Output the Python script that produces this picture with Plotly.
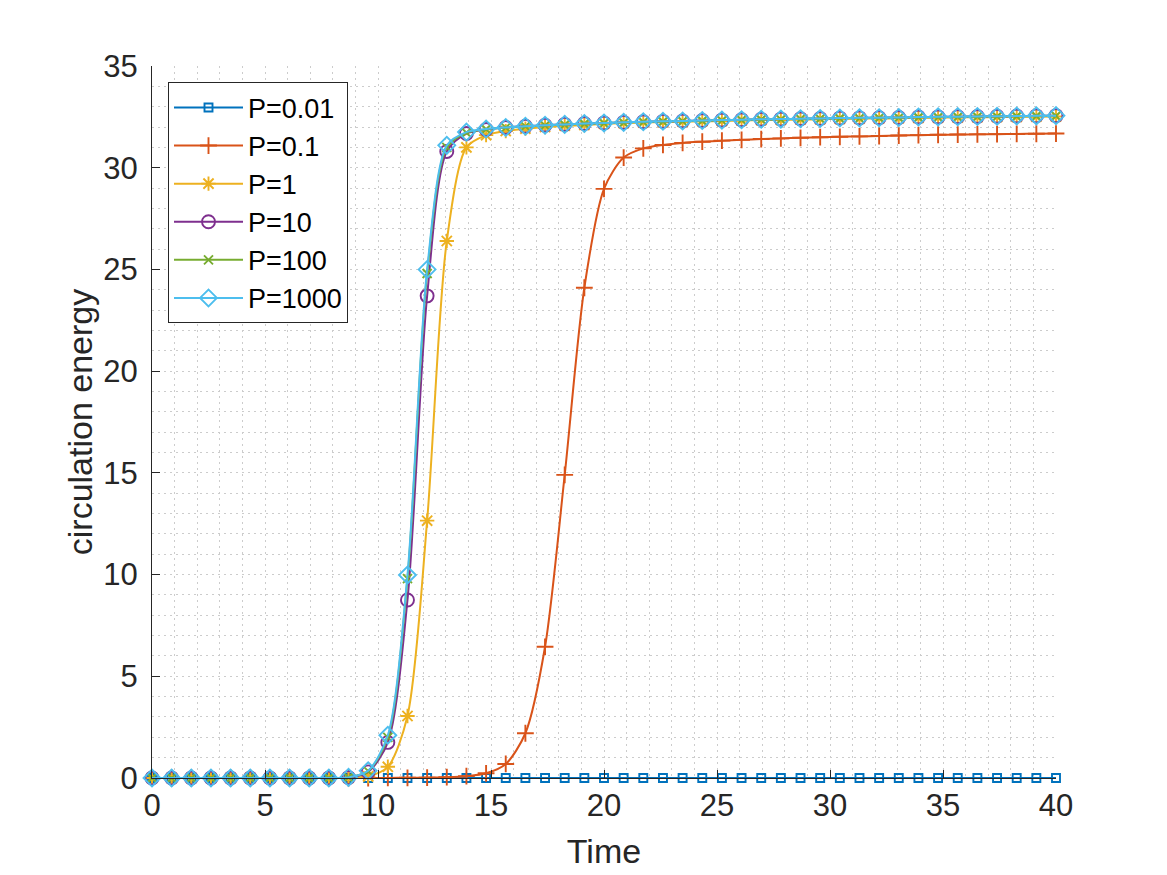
import numpy as np
import plotly.graph_objects as go

# time points where markers are drawn (47 evenly spaced samples from 0 to 40)
time = np.linspace(0, 40, 47)

labels = ["P=0.01", "P=0.1", "P=1", "P=10", "P=100", "P=1000"]

p001 = [0.0] * 47

p01 = [0, 0, 0, 0, 0, 0, 0, 0, 0, 0, 0, 0, 0.005, 0.01, 0.02, 0.04, 0.09, 0.23,
       0.69, 2.2, 6.45, 14.9, 24.1, 28.96, 30.5, 30.95, 31.12, 31.22, 31.28,
       31.33, 31.37, 31.41, 31.44, 31.47, 31.5, 31.52, 31.54, 31.56, 31.58,
       31.6, 31.62, 31.63, 31.64, 31.65, 31.66, 31.67, 31.68]

p1 = [0, 0, 0, 0, 0, 0, 0, 0, 0, 0, 0.01, 0.08, 0.55, 3.05, 12.65, 26.4, 31.0,
      31.6, 31.8, 31.92, 32.0, 32.06, 32.1, 32.16, 32.19, 32.22, 32.24, 32.26,
      32.28, 32.3, 32.32, 32.34, 32.35, 32.37, 32.38, 32.4, 32.41, 32.42, 32.43,
      32.45, 32.46, 32.47, 32.48, 32.49, 32.5, 32.51, 32.52]

p10 = [0, 0, 0, 0, 0, 0, 0, 0, 0, 0, 0.02, 0.3, 1.75, 8.75, 23.7, 30.8, 31.68,
       31.88, 31.98, 32.04, 32.09, 32.13, 32.17, 32.2, 32.23, 32.26, 32.28,
       32.3, 32.32, 32.34, 32.36, 32.38, 32.39, 32.41, 32.42, 32.44, 32.45,
       32.46, 32.47, 32.49, 32.5, 32.51, 32.52, 32.53, 32.54, 32.55, 32.56]

p100 = [0, 0, 0, 0, 0, 0, 0, 0, 0, 0, 0.03, 0.34, 2.0, 9.8, 24.8, 31.0, 31.72,
        31.89, 31.97, 32.03, 32.08, 32.12, 32.16, 32.19, 32.22, 32.25, 32.27,
        32.29, 32.31, 32.33, 32.35, 32.37, 32.38, 32.4, 32.41, 32.43, 32.44,
        32.45, 32.46, 32.48, 32.49, 32.5, 32.51, 32.52, 32.53, 32.54, 32.55]

p1000 = [0, 0, 0, 0, 0, 0, 0, 0, 0, 0, 0.03, 0.36, 2.1, 9.98, 25.0, 31.1, 31.75,
         31.9, 31.98, 32.04, 32.09, 32.13, 32.17, 32.2, 32.23, 32.26, 32.28,
         32.3, 32.32, 32.34, 32.36, 32.38, 32.39, 32.41, 32.42, 32.44, 32.45,
         32.46, 32.47, 32.49, 32.5, 32.51, 32.52, 32.53, 32.54, 32.55, 32.56]

series = [p001, p01, p1, p10, p100, p1000]
colors = ["#0072BD", "#D95319", "#EDB120", "#7E2F8E", "#77AC30", "#4DBEEE"]
symbols = ["square-open", "cross-thin-open", "asterisk-open", "circle-open",
           "x-thin-open", "diamond-open"]
sizes = [8, 12, 12, 13, 9, 13]

fig = go.Figure()
for lab, ys, col, sym, sz in zip(labels, series, colors, symbols, sizes):
    fig.add_trace(go.Scatter(
        x=time, y=ys, name=lab, mode="lines+markers",
        line=dict(color=col, width=2, shape="spline", smoothing=0.8),
        marker=dict(symbol=sym, size=sz, color=col,
                    line=dict(color=col, width=1.9)),
        cliponaxis=False,
    ))

axis_col = "#262626"
grid_col = "#cccccc"
dash = "2px,4px"
common = dict(
    showline=True, linecolor=axis_col, linewidth=1, mirror=False,
    ticks="inside", ticklen=8, tickcolor=axis_col, tickwidth=1,
    showgrid=True, gridcolor=grid_col, griddash=dash, gridwidth=1,
    zeroline=False, automargin=False,
    tickfont=dict(family="Liberation Sans", size=31, color=axis_col),
    minor=dict(dtick=1, showgrid=True, gridcolor=grid_col, griddash=dash,
               gridwidth=1, ticks=""),
)

fig.update_layout(
    width=1167, height=875,
    margin=dict(l=152, r=111, t=66, b=97),
    paper_bgcolor="white", plot_bgcolor="white",
    font=dict(family="Liberation Sans", color=axis_col),
    xaxis=dict(range=[0, 40], tickvals=list(range(0, 41, 5)),
               title=dict(text="Time", font=dict(size=34), standoff=16),
               **common),
    yaxis=dict(range=[0, 35], tickvals=list(range(0, 36, 5)),
               ticklabelstandoff=7,
               title=dict(text="circulation energy", font=dict(size=34), standoff=0),
               **common),
    legend=dict(x=0.0177, y=0.977, xanchor="left", yanchor="top",
                bgcolor="white", bordercolor=axis_col, borderwidth=1,
                font=dict(family="Liberation Sans", size=27, color="black"),
                itemwidth=69, tracegroupgap=0),
    showlegend=True,
)

fig.write_html("out.html")
